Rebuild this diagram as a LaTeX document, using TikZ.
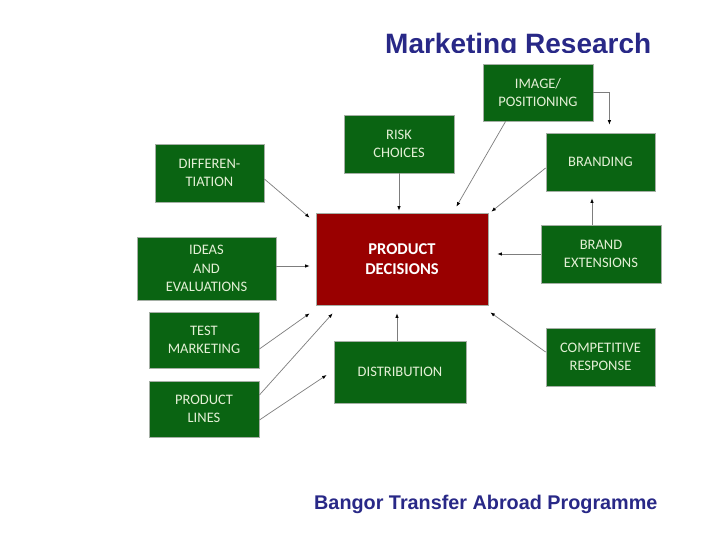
\documentclass[tikz,border=0pt]{standalone}
\usepackage{fontspec}
\setmainfont{Liberation Sans}
\newfontfamily\boxfont{Carlito}
\usetikzlibrary{arrows.meta,calc}
\definecolor{boxgreen}{RGB}{10,100,18}
\definecolor{boxred}{RGB}{153,0,0}
\definecolor{boxtext}{RGB}{228,240,214}
\definecolor{titleblue}{RGB}{40,40,135}
\definecolor{edgegray}{RGB}{165,175,165}
\definecolor{linegray}{RGB}{125,125,125}
\begin{document}
\begin{tikzpicture}[x=1pt,y=-1pt,
  gbox/.style={draw=edgegray, line width=0.8pt, fill=boxgreen, text=boxtext,
    align=center, inner sep=0pt, font=\boxfont\fontsize{14.5}{18.5}\selectfont},
  rbox/.style={draw=edgegray, line width=0.8pt, fill=boxred, text=white,
    align=center, inner sep=0pt, font=\boxfont\bfseries\fontsize{16.5}{20}\selectfont},
  conn/.style={draw=linegray, line width=0.7pt, -{Latex[length=4.5pt,width=3.5pt,color=black]}},
  titletext/.style={text=titleblue, inner sep=0pt, anchor=base west}]
\useasboundingbox (0,0) rectangle (720,540);
\fill[white] (0,0) rectangle (720,540);

% title (clipped at bottom as in the reference)
\begin{scope}
  \clip (0,0) rectangle (720,52.5);
  \node[titletext, font=\bfseries\fontsize{28}{30}\selectfont] (title) at (385,54) {Marketing Research};
\end{scope}
\node[titletext, font=\bfseries\fontsize{19.8}{22}\selectfont] (footer) at (314,509) {Bangor Transfer Abroad Programme};

% boxes
\node[gbox, minimum width=110, minimum height=57] (img)   at (538,92.5)  {IMAGE/\\POSITIONING};
\node[gbox, minimum width=110, minimum height=58] (risk)  at (399,144)   {RISK\\CHOICES};
\node[gbox, minimum width=109, minimum height=58] (diff)  at (209.5,173) {DIFFEREN-\\TIATION};
\node[gbox, minimum width=109, minimum height=58] (brand) at (600.5,162) {BRANDING};
\node[rbox, minimum width=172, minimum height=92] (pd)    at (402,259)   {PRODUCT\\DECISIONS};
\node[gbox, minimum width=139, minimum height=63] (ideas) at (206.5,268.5) {IDEAS\\AND\\EVALUATIONS};
\node[gbox, minimum width=120, minimum height=58] (bext)  at (601,254)   {BRAND\\EXTENSIONS};
\node[gbox, minimum width=110, minimum height=56] (test)  at (204,340)   {TEST\\MARKETING};
\node[gbox, minimum width=110, minimum height=56] (pl)    at (204,409)   {PRODUCT\\LINES};
\node[gbox, minimum width=132, minimum height=62] (dist)  at (400,372)   {DISTRIBUTION};
\node[gbox, minimum width=109, minimum height=58] (comp)  at (600.5,357) {COMPETITIVE\\RESPONSE};

% connectors
\draw[conn] ($(diff.east)+(0,6)$) -- ($(pd.north west)+(-6,5)$);
\draw[conn] ($(risk.south)+(0,0)$) -- ($(pd.north)+(-3,-2)$);
\draw[conn] ($(img.south west)+(23,0)$) -- ($(pd.north east)+(-32,-6)$);
\draw[conn] (img.east) -| ($(brand.north east)+(-46,-8)$);
\draw[conn] ($(brand.west)+(0,6)$) -- ($(pd.north east)+(3,-1)$);
\draw[conn] ($(bext.north)+(-9,0)$) -- ($(brand.south)+(-8.5,7)$);
\draw[conn] ($(bext.west)+(0,0)$) -- ($(pd.east)+(9,-5)$);
\draw[conn] ($(ideas.east)+(0,-2.5)$) -- ($(pd.west)+(-6,7)$);
\draw[conn] ($(test.east)+(0,9)$) -- ($(pd.south west)+(-6,8)$);
\draw[conn] ($(pl.east)+(0,-14)$) -- ($(pd.south west)+(17,8)$);
\draw[conn] ($(pl.east)+(0,11)$) -- ($(dist.west)+(-7,3)$);
\draw[conn] ($(dist.north)+(-3,0)$) -- ($(pd.south)+(-5,8)$);
\draw[conn] ($(comp.west)+(0,-5)$) -- ($(pd.south east)+(2,7)$);
\end{tikzpicture}
\end{document}
